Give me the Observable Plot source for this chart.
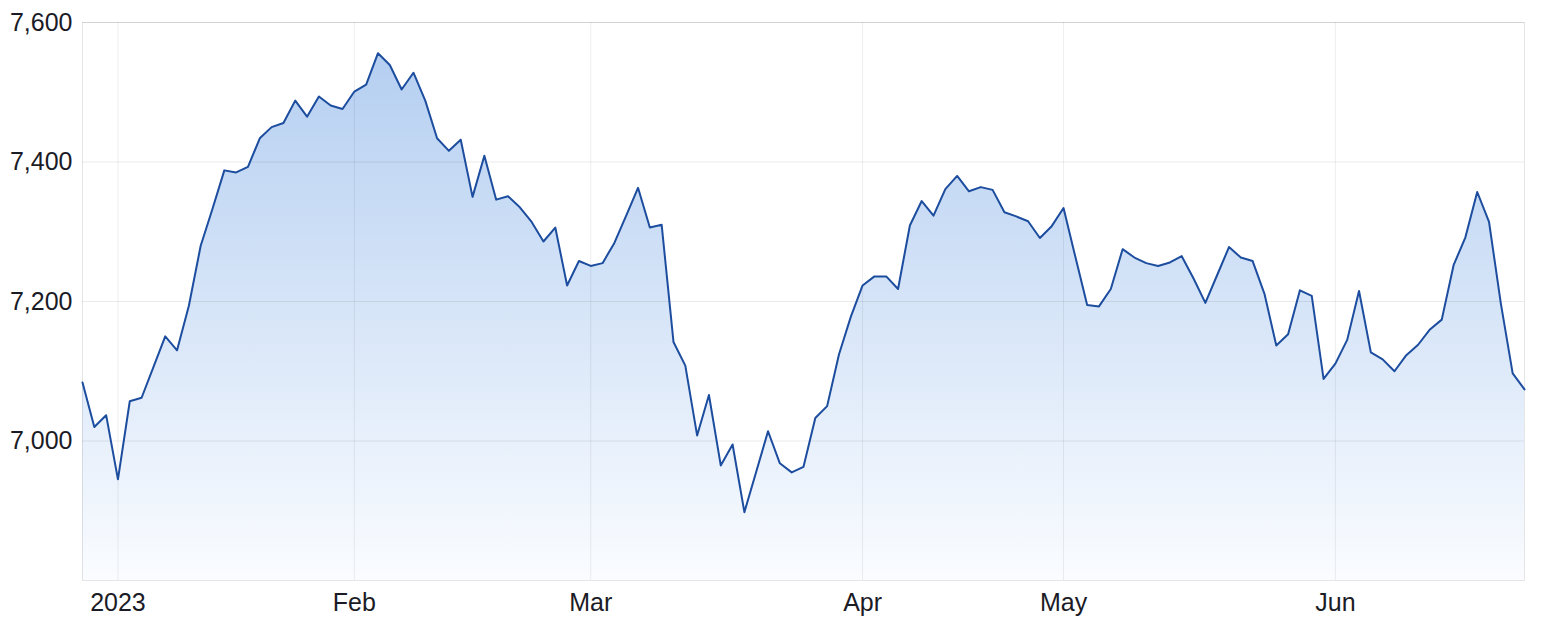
<!DOCTYPE html>
<html>
<head>
<meta charset="utf-8">
<script src="https://cdn.jsdelivr.net/npm/d3@7"></script>
<script src="https://cdn.jsdelivr.net/npm/@observablehq/plot@0.6"></script>
<style>
  html, body { margin: 0; padding: 0; background: #fff; }
</style>
</head>
<body>
<div id="chart"></div>
<script>
// Daily closing values, one per trading day (late Dec 2022 → 23 Jun 2023)
const values = [
  7084, 7020, 7037, 6945, 7057, 7062, 7106, 7150, 7130, 7194,
  7280, 7333, 7388, 7385, 7393, 7434, 7450, 7456, 7488, 7465,
  7494, 7481, 7476, 7501, 7511, 7556, 7539, 7504, 7528, 7488,
  7434, 7416, 7432, 7350, 7409, 7346, 7351, 7335, 7314, 7286,
  7306, 7223, 7258, 7251, 7255, 7284, 7323, 7363, 7306, 7310,
  7142, 7108, 7008, 7066, 6965, 6995, 6898, 6956, 7014, 6968,
  6955, 6963, 7033, 7050, 7124, 7178, 7223, 7236, 7236, 7218,
  7309, 7344, 7323, 7361, 7380, 7358, 7364, 7360, 7328, 7322,
  7315, 7291, 7308, 7334, 7264, 7195, 7193, 7218, 7275, 7263,
  7255, 7251, 7256, 7265, 7233, 7198, 7238, 7278, 7263, 7258,
  7211, 7137, 7153, 7216, 7208, 7089, 7111, 7145, 7215, 7127,
  7117, 7100, 7123, 7138, 7160, 7174, 7252, 7292, 7357, 7314,
  7197, 7097, 7074
];
// First trading day of each month (position in the series) and its label
const tickIndex = [3, 23, 43, 66, 83, 106];
const tickLabels = ["2023", "Feb", "Mar", "Apr", "May", "Jun"];
// Value axis ticks
const yTicks = [7000, 7200, 7400, 7600];
const yDomain = [6800, 7600];

const data = values.map((v, i) => ({i, v}));

const gradientDefs = () => {
  const ns = "http://www.w3.org/2000/svg";
  const defs = document.createElementNS(ns, "defs");
  const grad = document.createElementNS(ns, "linearGradient");
  grad.setAttribute("id", "areaFill");
  grad.setAttribute("x1", "0"); grad.setAttribute("y1", "0");
  grad.setAttribute("x2", "0"); grad.setAttribute("y2", "1");
  [["0", "#b5cff1"], ["1", "#fafcff"]].forEach(([o, c]) => {
    const s = document.createElementNS(ns, "stop");
    s.setAttribute("offset", o);
    s.setAttribute("stop-color", c);
    grad.appendChild(s);
  });
  defs.appendChild(grad);
  return defs;
};

const chart = Plot.plot({
  width: 1562,
  height: 626,
  marginLeft: 82,
  marginRight: 38,
  marginTop: 22,
  marginBottom: 46,
  style: {
    fontFamily: "'Liberation Sans', Arial, sans-serif",
    fontSize: "25px",
    color: "#1b1b26",
    background: "#fff"
  },
  x: {
    domain: [0, values.length - 1],
    ticks: tickIndex,
    tickFormat: d => tickLabels[tickIndex.indexOf(d)],
    tickSize: 0,
    tickPadding: 13,
    label: null
  },
  y: {
    domain: yDomain,
    ticks: yTicks,
    tickFormat: d3.format(","),
    tickSize: 0,
    tickPadding: 10,
    label: null
  },
  marks: [
    gradientDefs,
    Plot.areaY(data, {x: "i", y1: yDomain[0], y2: "v", fill: "url(#areaFill)"}),
    Plot.ruleY(yTicks, {stroke: "#000", strokeOpacity: 0.08}),
    Plot.ruleX(tickIndex, {stroke: "#000", strokeOpacity: 0.07}),
    Plot.frame({stroke: "#000", strokeOpacity: 0.1}),
    Plot.lineY(data, {x: "i", y: "v", stroke: "#1d4d9e", strokeWidth: 2})
  ]
});
document.getElementById("chart").appendChild(chart);
</script>
</body>
</html>
